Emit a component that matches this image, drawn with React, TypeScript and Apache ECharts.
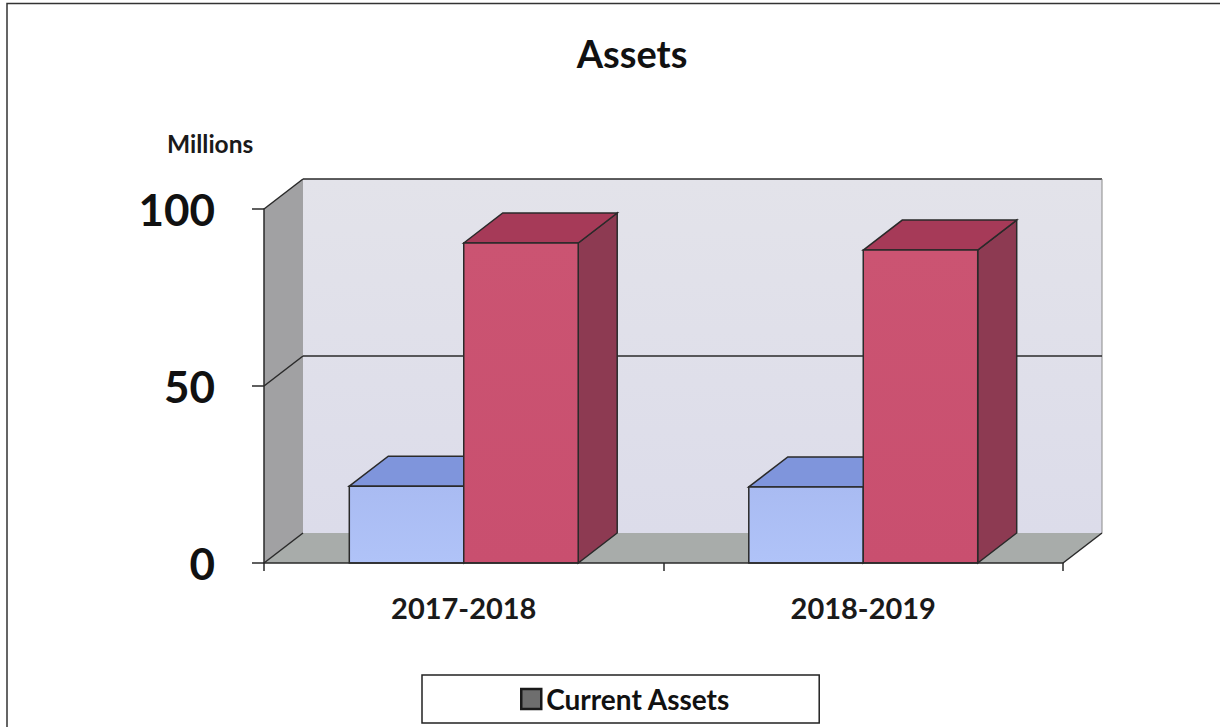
import React, { useEffect, useRef } from "react";
import * as echarts from "echarts";

const categories = ["2017-2018", "2018-2019"];
const currentAssets = [21.7, 21.5];
const otherAssets = [90.4, 88.4];
const yTicks = [0, 50, 100];
const FONT = "Lato, Carlito, sans-serif";
const DX = 39;
const DY = -30;
const INK = "#2a2a2a";

function poly(points: number[][], fill: any, stroke = INK, lineWidth = 1.5) {
  return { type: "polygon", shape: { points }, style: { fill, stroke, lineWidth } };
}
function vgrad(a: string, b: string) {
  return new echarts.graphic.LinearGradient(0, 0, 0, 1, [
    { offset: 0, color: a },
    { offset: 1, color: b },
  ]);
}

function wallRender(_p: any, api: any) {
  const l = api.coord([0, 0]);
  const band = api.size([1, 0])[0];
  const x0 = l[0] - band / 2;
  const x1 = l[0] + band * 1.5;
  const y0 = l[1];
  const yT = api.coord([0, 100])[1];
  const yM = api.coord([0, 50])[1];
  const children: any[] = [
    poly([[x0 + DX, yT + DY], [x1 + DX, yT + DY], [x1 + DX, y0 + DY], [x0 + DX, y0 + DY]], vgrad("#e3e3ea", "#dcdcea"), "transparent", 0),
    poly([[x0, yT], [x0 + DX, yT + DY], [x0 + DX, y0 + DY], [x0, y0]], "#a1a1a3", "transparent", 0),
    poly([[x0, y0], [x0 + DX, y0 + DY], [x1 + DX, y0 + DY], [x1, y0]], "#a8acaa", "transparent", 0),
    { type: "line", shape: { x1: x0, y1: yT, x2: x0 + DX, y2: yT + DY }, style: { stroke: INK, lineWidth: 1.5 } },
    { type: "line", shape: { x1: x0 + DX, y1: yT + DY, x2: x1 + DX, y2: yT + DY }, style: { stroke: INK, lineWidth: 1.5 } },
    { type: "line", shape: { x1: x1 + DX, y1: yT + DY, x2: x1 + DX, y2: y0 + DY }, style: { stroke: "#8a8a8a", lineWidth: 1 } },
    { type: "line", shape: { x1: x1, y1: y0, x2: x1 + DX, y2: y0 + DY }, style: { stroke: INK, lineWidth: 1.5 } },
    { type: "line", shape: { x1: x0, y1: y0, x2: x0 + DX, y2: y0 + DY }, style: { stroke: INK, lineWidth: 1.5 } },
    { type: "line", shape: { x1: x0, y1: yM, x2: x0 + DX, y2: yM + DY }, style: { stroke: INK, lineWidth: 1.5 } },
    { type: "line", shape: { x1: x0 + DX, y1: yM + DY, x2: x1 + DX, y2: yM + DY }, style: { stroke: INK, lineWidth: 1.5 } },
  ];
  return { type: "group", children };
}

function barRender(offset: number, front: any, top: string, side: string) {
  return (_p: any, api: any) => {
    const cat = api.value(0);
    const base = api.coord([cat, 0]);
    const head = api.coord([cat, api.value(1)]);
    const w = api.size([1, 0])[0] * 0.2865;
    const x0 = base[0] + offset * w;
    const x1 = x0 + w;
    const y0 = base[1];
    const y1 = head[1];
    return {
      type: "group",
      children: [
        poly([[x1, y1], [x1 + DX, y1 + DY], [x1 + DX, y0 + DY], [x1, y0]], side),
        poly([[x0, y1], [x0 + DX, y1 + DY], [x1 + DX, y1 + DY], [x1, y1]], top),
        poly([[x0, y1], [x1, y1], [x1, y0], [x0, y0]], front),
      ],
    };
  };
}

export default function App() {
  const ref = useRef<HTMLDivElement>(null);
  useEffect(() => {
    const chart = echarts.init(ref.current!, undefined, { renderer: "svg" });
    chart.setOption({
      animation: false,
      backgroundColor: "#ffffff",
      title: {
        text: "Assets",
        left: 627,
        top: 29,
        textAlign: "center",
        textStyle: { fontFamily: FONT, fontWeight: "bold", fontSize: 38, color: "#111" },
      },
      legend: {
        left: 422,
        top: 675,
        data: [{ name: "Current Assets", icon: "rect", itemStyle: { color: "#6e6e6e", borderColor: "#1a1a1a", borderWidth: 2.5 } }],
        itemWidth: 20,
        itemHeight: 20,
        itemGap: 0,
        padding: [10, 89, 10, 98],
        backgroundColor: "#fff",
        borderColor: "#222",
        borderWidth: 1.5,
        borderRadius: 0,
        textStyle: { fontFamily: FONT, fontWeight: "bold", fontSize: 28, color: "#111" },
        selectedMode: false,
      },
      grid: { left: 264, top: 209, width: 799, height: 354, containLabel: false },
      xAxis: {
        type: "category",
        data: categories,
        z: 5,
        axisLine: { show: true, lineStyle: { color: INK, width: 1.5 } },
        axisTick: { show: true, length: 8, lineStyle: { color: INK, width: 1.5 } },
        axisLabel: { margin: 30, fontFamily: FONT, fontWeight: "bold", fontSize: 29, color: "#1a1a1a" },
      },
      yAxis: {
        type: "value",
        min: 0,
        max: 100,
        interval: 50,
        z: 5,
        axisLine: { show: true, lineStyle: { color: INK, width: 1.5 } },
        axisTick: { show: true, length: 12, lineStyle: { color: INK, width: 1.5 } },
        axisLabel: {
          margin: 49,
          fontFamily: FONT,
          fontWeight: "bold",
          fontSize: 44,
          color: "#111",
          padding: [3, 0, 0, 0],
          formatter: (v: number) => (yTicks.includes(v) ? String(v) : ""),
        },
        splitLine: { show: false },
      },
      series: [
        { type: "custom", name: "wall", silent: true, clip: false, z: 1, renderItem: wallRender, data: [[0, 0]], encode: { x: 0, y: 1 } },
        {
          type: "custom",
          name: "Current Assets",
          clip: false,
          z: 2,
          renderItem: barRender(-1, vgrad("#a9bbf2", "#b0c3f8"), "#7f95dc", "#6f83c4"),
          data: categories.map((_, i) => [i, currentAssets[i]]),
          encode: { x: 0, y: 1 },
        },
        {
          type: "custom",
          name: "Other Assets",
          clip: false,
          z: 3,
          renderItem: barRender(0, vgrad("#cb5472", "#c94f6f"), "#a63a58", "#8d3a52"),
          data: categories.map((_, i) => [i, otherAssets[i]]),
          encode: { x: 0, y: 1 },
        },
      ],
      graphic: [
        { type: "polyline", silent: true, shape: { points: [[7, 727], [7, 3.5], [1220, 3.5]] }, style: { fill: "none", stroke: "#333", lineWidth: 1.5 } },
        { type: "text", x: 167, y: 131, silent: true, style: { text: "Millions", fontFamily: FONT, fontWeight: "bold", fontSize: 24.5, fill: "#1a1a1a" } },
      ],
    });
    return () => chart.dispose();
  }, []);
  return <div ref={ref} style={{ position: "absolute", left: 0, top: 0, width: 1220, height: 727 }} />;
}
